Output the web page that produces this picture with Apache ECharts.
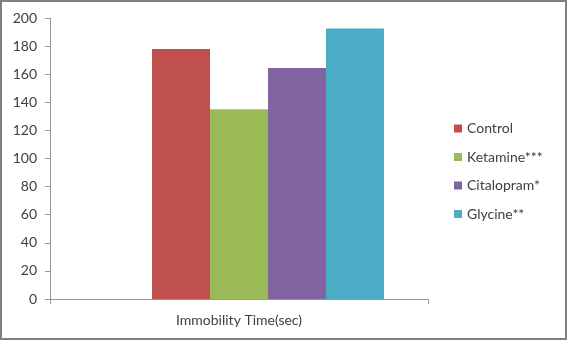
<!DOCTYPE html>
<html>
<head>
<meta charset="utf-8">
<script src="https://cdn.jsdelivr.net/npm/echarts@6/dist/echarts.min.js"></script>
<style>
html,body{margin:0;padding:0;background:#fff;}
#c{width:567px;height:340px;}
</style>
</head>
<body>
<div id="c"></div>
<script>
var categories = ['Immobility Time(sec)'];
var seriesNames = ['Control', 'Ketamine***', 'Citalopram*', 'Glycine**'];
var seriesValues = [178, 135, 164.5, 192.5];
var seriesColors = ['#C0504D', '#9BBB59', '#8064A2', '#4BACC6'];
var yTicks = {min: 0, max: 200, interval: 20};

var chart = echarts.init(document.getElementById('c'));
var font = 'Lato, "Open Sans", sans-serif';
var series = [{
  name: '_empty', type: 'bar', data: [null], barGap: '0%', barCategoryGap: '23.3%'
}];
seriesNames.forEach(function (n, i) {
  series.push({
    name: n, type: 'bar', data: [seriesValues[i]],
    barGap: '0%', barCategoryGap: '23.3%',
    itemStyle: {color: seriesColors[i]}
  });
});
chart.setOption({
  animation: false,
  textStyle: {fontFamily: font},
  grid: {left: 50, right: 139, top: 18, bottom: 41, containLabel: false},
  xAxis: {
    type: 'category', data: categories,
    axisLine: {lineStyle: {color: '#999', width: 1}},
    axisTick: {show: true, length: 5, lineStyle: {color: '#999'}},
    axisLabel: {color: '#404040', fontSize: 14, fontFamily: font, margin: 14}
  },
  yAxis: {
    type: 'value', min: yTicks.min, max: yTicks.max, interval: yTicks.interval,
    axisLine: {show: true, lineStyle: {color: '#999', width: 1}},
    axisTick: {show: true, length: 5, lineStyle: {color: '#999'}},
    splitLine: {show: false},
    axisLabel: {color: '#404040', fontSize: 14, fontFamily: font, margin: 13}
  },
  legend: {
    data: seriesNames, orient: 'vertical', left: 449, top: 116,
    itemWidth: 8, itemHeight: 8, itemGap: 13.5,
    icon: 'rect',
    textStyle: {color: '#404040', fontSize: 14, fontFamily: font, lineHeight: 15}
  },
  graphic: [{
    type: 'rect', silent: true, z: 100,
    shape: {x: 1, y: 1, width: 565, height: 338},
    style: {fill: 'none', stroke: '#808080', lineWidth: 2}
  }],
  series: series
});
</script>
</body>
</html>
